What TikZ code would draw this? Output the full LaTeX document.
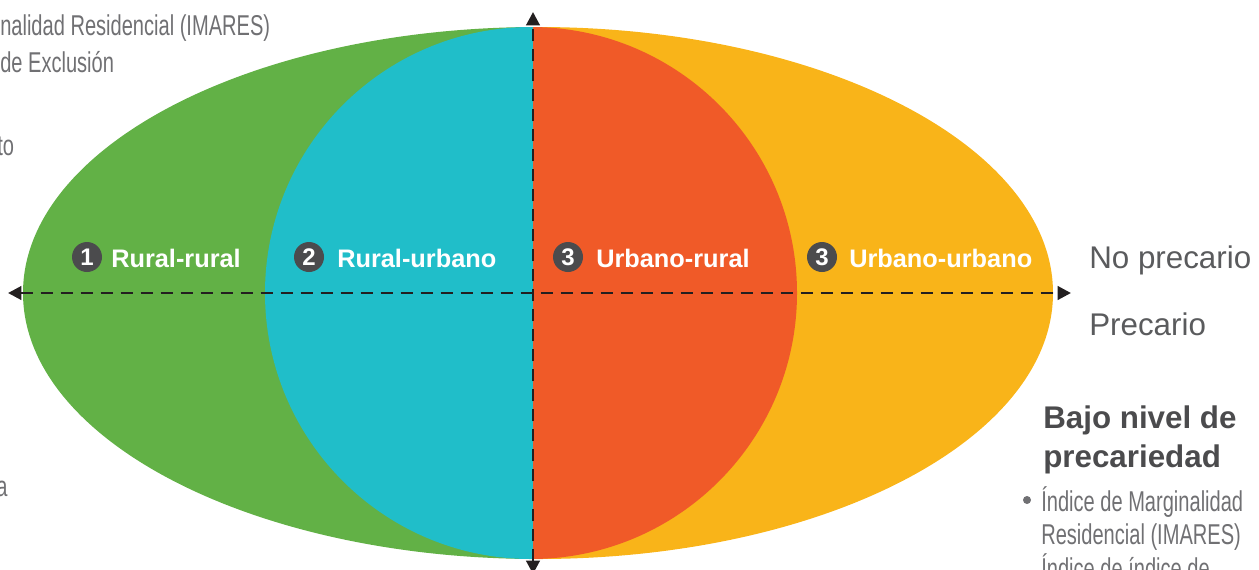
\documentclass[tikz,border=0pt]{standalone}
\usepackage{fontspec}
\setmainfont{Liberation Sans}
\newfontfamily\condfont[FakeStretch=0.70]{Liberation Sans}
\usepackage{tikz}
\usetikzlibrary{arrows.meta}
\usetikzlibrary{calc}
\definecolor{rgreen}{HTML}{62B146}
\definecolor{rcyan}{HTML}{20BEC9}
\definecolor{rorange}{HTML}{F05A28}
\definecolor{ryellow}{HTML}{F9B419}
\definecolor{badgegray}{HTML}{4B4B4D}
\definecolor{textgray}{HTML}{707073}
\definecolor{sidegray}{HTML}{5A5B5D}
\definecolor{axisblack}{HTML}{231F20}
\tikzstyle{axis}=[line width=2.2pt,axisblack,dash pattern=on 9pt off 6pt,{Triangle[length=10pt,width=10pt]}-{Triangle[length=10pt,width=10pt]}]
\tikzstyle{badge}=[circle,fill=badgegray,inner sep=0pt,minimum size=22.5pt,text=white,font=\bfseries\fontsize{18}{18}\selectfont]
\tikzstyle{zone}=[anchor=base west,text=white,font=\bfseries\fontsize{19}{19}\selectfont,inner sep=0pt]
\tikzstyle{side}=[anchor=base west,text=sidegray,font=\fontsize{23.5}{23.5}\selectfont,inner sep=0pt]
\tikzstyle{head}=[anchor=base west,text=badgegray,font=\bfseries\fontsize{23.5}{23.5}\selectfont,inner sep=0pt]
\tikzstyle{note}=[anchor=base west,text=textgray,font=\condfont\fontsize{21.5}{21.5}\selectfont,inner sep=0pt]
\begin{document}
\begin{tikzpicture}[x=0.75pt,y=-0.75pt]
	\useasboundingbox (0,0) rectangle (1259,569);
	% halves of the oval
	\begin{scope}
		\clip (0,0) rectangle (533,569);
		\fill[rgreen] (538,293) ellipse [x radius=515,y radius=266];
		\fill[rcyan] (531,293) ellipse [x radius=266,y radius=266];
	\end{scope}
	\begin{scope}
		\clip (533,0) rectangle (1259,569);
		\fill[ryellow] (538,293) ellipse [x radius=515,y radius=266];
		\fill[rorange] (531,293) ellipse [x radius=266,y radius=266];
	\end{scope}
	% axes
	\coordinate (w) at (8,293);
	\coordinate (e) at (1071,293);
	\coordinate (n) at (533,12);
	\coordinate (s) at (533,574);
	\draw[axis] (w) -- (e);
	\draw[axis] (s) -- (n);
	% zones
	\node[badge] (n1) at (87,257) {1};
	\node[zone] (rr) at (111,267) {Rural-rural};
	\node[badge] (n2) at (309,257) {2};
	\node[zone] (ru) at (337,267) {Rural-urbano};
	\node[badge] (n3) at (568,257) {3};
	\node[zone] (ur) at (596,267) {Urbano-rural};
	\node[badge] (n4) at (822,257) {3};
	\node[zone] (uu) at (849,267) {Urbano-urbano};
	\node[side] (np) at (1089,268) {No precario};
	\node[side] (pr) at (1089,335) {Precario};
	% side texts
	\node[note] (l1) at (0,35) {nalidad Residencial (IMARES)};
	\node[note] (l2) at (0,72) {de Exclusión};
	\node[note] (l3) at (-3,155) {to};
	\node[note] (l4) at (-4,496) {a};
	\node[head] (bajo) at (1043,428) {Bajo nivel de};
	\node[head] (prec) at (1043,467) {precariedad};
	\fill[textgray] (1027,500) circle (4);
	\node[note] (b1) at (1041,511) {Índice de Marginalidad};
	\node[note] (b2) at (1041,544) {Residencial (IMARES)};
	\node[note] (b3) at (1041,578) {Índice de índice de};
\end{tikzpicture}
\end{document}
